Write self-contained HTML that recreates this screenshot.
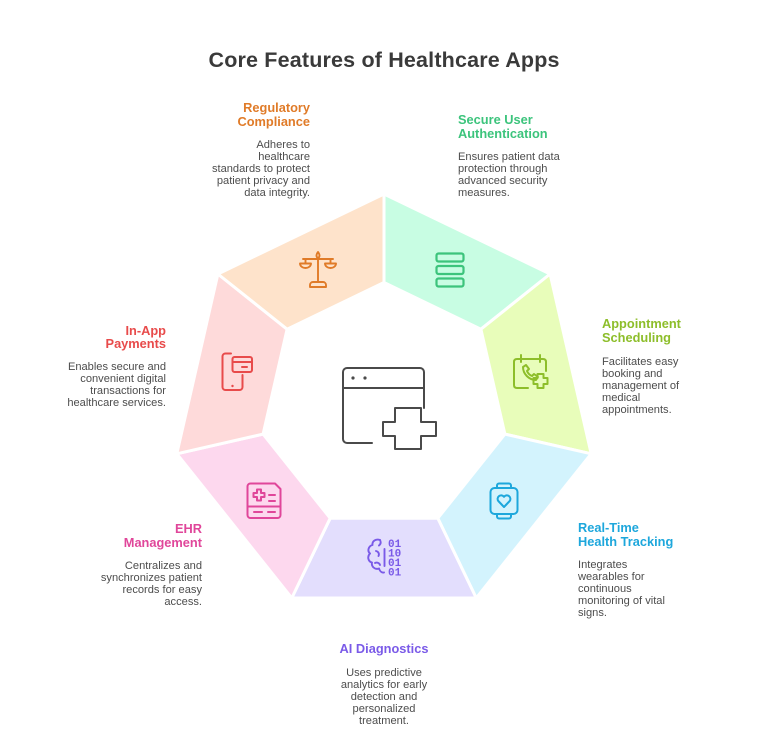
<!DOCTYPE html>
<html>
<head>
<meta charset="utf-8">
<style>
  html,body{margin:0;padding:0;background:#ffffff;}
  body{width:768px;height:748px;overflow:hidden;}
  svg{display:block;}
  .t{font-family:"Liberation Sans",sans-serif;font-weight:bold;font-size:12.8px;}
  .d{font-family:"Liberation Sans",sans-serif;font-size:11.1px;fill:#4d4d4d;}
</style>
</head>
<body>
<svg width="768" height="748" viewBox="0 0 768 748" xmlns="http://www.w3.org/2000/svg">
  <!-- Title -->
  <text x="384" y="67" text-anchor="middle" font-family="Liberation Sans, sans-serif" font-weight="bold" font-size="21.5" fill="#3a3a3a" textLength="351" lengthAdjust="spacing">Core Features of Healthcare Apps</text>

  <!-- Ring segments -->
  <g stroke="#ffffff" stroke-width="3" stroke-linejoin="miter">
    <polygon points="384,194 550.1,274 480.9,329.2 384,282.5" fill="#C8FDE3"/>
    <polygon points="550.1,274 591.2,453.8 504.9,434.1 480.9,329.2" fill="#E8FDBA"/>
    <polygon points="591.2,453.8 476.2,598 437.8,518.2 504.9,434.1" fill="#D3F3FD"/>
    <polygon points="476.2,598 291.8,598 330.2,518.2 437.8,518.2" fill="#E3DEFD"/>
    <polygon points="291.8,598 176.8,453.8 263.1,434.1 330.2,518.2" fill="#FDD8EE"/>
    <polygon points="176.8,453.8 217.9,274 287.1,329.2 263.1,434.1" fill="#FEDADA"/>
    <polygon points="217.9,274 384,194 384,282.5 287.1,329.2" fill="#FEE3CB"/>
  </g>

  <!-- Center icon -->
  <g stroke="#4a4a4a" stroke-width="2" fill="none" stroke-linecap="round" stroke-linejoin="round">
    <path d="M372 443 H347 a4 4 0 0 1 -4 -4 V372 a4 4 0 0 1 4 -4 H420 a4 4 0 0 1 4 4 V408"/>
    <path d="M343 388 H424"/>
    <path d="M395 408 H421 V422 H436 V436 H421 V449 H395 V436 H383 V422 H395 Z"/>
  </g>
  <circle cx="353" cy="378" r="1.6" fill="#4a4a4a"/>
  <circle cx="365" cy="378" r="1.6" fill="#4a4a4a"/>

  <!-- Scales icon (orange) -->
  <g stroke="#E07B28" stroke-width="1.9" fill="none" stroke-linecap="round" stroke-linejoin="round">
    <path d="M318 258 V281"/>
    <path d="M318 252 c-2 2.5 -2 5 0 6 c2 -1 2 -3.5 0 -6z"/>
    <path d="M303 259 H333"/>
    <path d="M305.5 259 V263 M330.5 259 V263"/>
    <path d="M300 263.5 H311 a5.5 4.5 0 0 1 -11 0z"/>
    <path d="M325 263.5 H336 a5.5 4.5 0 0 1 -11 0z"/>
    <path d="M310 287 H326 V285 a3 3 0 0 0 -3 -3 H313 a3 3 0 0 0 -3 3 Z"/>
  </g>

  <!-- Stack icon (green) -->
  <g stroke="#3CC47C" stroke-width="2.2" fill="none">
    <rect x="436.5" y="253.5" width="27" height="8" rx="2"/>
    <rect x="436.5" y="266" width="27" height="8" rx="2"/>
    <rect x="436.5" y="278.5" width="27" height="8" rx="2"/>
  </g>

  <!-- Appointment icon (yellow-green) -->
  <g stroke="#8DBE2A" stroke-width="2" fill="none" stroke-linecap="round" stroke-linejoin="round">
    <path d="M528 388 H517 Q514 388 514 385 V362 Q514 359 517 359 H543 Q546 359 546 362 V371"/>
    <path d="M521 355 V362 M540 355 V362"/>
    <path d="M523 367 l3 -2 l3 4 l-2 2 c1 2.5 2.5 4 5 5 l2 -2 l4 3 l-2 3 c-7 0 -13 -6 -13 -13 z"/>
    <path d="M537.5 374 H543.5 V378 H547.5 V384 H543.5 V388 H537.5 V384 H533.5 V378 H537.5 Z"/>
  </g>

  <!-- Watch icon (blue) -->
  <g stroke="#1DA7DC" stroke-width="2" fill="none" stroke-linecap="round" stroke-linejoin="round">
    <rect x="490.5" y="488" width="27" height="26" rx="4"/>
    <path d="M497 488 V485.5 a2 2 0 0 1 2 -2 H509 a2 2 0 0 1 2 2 V488"/>
    <path d="M497 514 V516.5 a2 2 0 0 0 2 2 H509 a2 2 0 0 0 2 -2 V514"/>
    <path d="M504 507 L498.3 501 a3.3 3.3 0 0 1 5.7 -4.2 a3.3 3.3 0 0 1 5.7 4.2 Z"/>
  </g>

  <!-- AI icon (purple) -->
  <g stroke="#7A5AE8" stroke-width="1.9" fill="none" stroke-linecap="round" stroke-linejoin="round">
    <path d="M380 540 c-4 -1.5 -8 1 -7.5 5 c-4 1 -5.5 6 -2.5 8.5 c-3 3 -2 8 2 9 c-1 4 3 7.5 7 6 c1 3 3 4.5 5 4"/>
    <path d="M380 540 c1 2 1 4 -1 5.5 M376 551 c2.5 0.5 3.5 3 2.5 5 M375 563 c2 -1 4.5 0 5 2"/>
    <path d="M384.5 549 V566"/>
  </g>
  <g font-family="Liberation Mono, monospace" font-weight="bold" font-size="11" fill="#7A5AE8">
    <text x="388" y="547">01</text>
    <text x="388" y="556.5">10</text>
    <text x="388" y="566">01</text>
    <text x="388" y="575.5">01</text>
  </g>

  <!-- EHR icon (pink) -->
  <g stroke="#E0469A" stroke-width="2" fill="none" stroke-linecap="round" stroke-linejoin="round">
    <path d="M250.5 483.5 H275 L280.5 489 V515 a3 3 0 0 1 -3 3 H250.5 a3 3 0 0 1 -3 -3 V486.5 a3 3 0 0 1 3 -3 Z"/>
    <path d="M247.5 506.5 H280.5"/>
    <path d="M254 512 H262 M268 512 H275"/>
    <path d="M257 489.5 H261 V493 H264.5 V497 H261 V500.5 H257 V497 H253.5 V493 H257 Z"/>
    <path d="M269 495 H275 M269 501 H275"/>
  </g>

  <!-- Payment icon (red) -->
  <g stroke="#E84B4B" stroke-width="2" fill="none" stroke-linecap="round" stroke-linejoin="round">
    <path d="M231 353.5 H225.5 a3 3 0 0 0 -3 3 V387 a3 3 0 0 0 3 3 H239.5 a3 3 0 0 0 3 -3 V375"/>
    <rect x="232.5" y="357" width="19.5" height="15" rx="2"/>
    <path d="M232.5 362 H252"/>
    <path d="M242 367 H247"/>
  </g>
  <circle cx="232.5" cy="386" r="1.2" fill="#E84B4B"/>

  <!-- Regulatory Compliance -->
  <text class="t" x="310" y="112" text-anchor="end" fill="#E07B28">Regulatory</text>
  <text class="t" x="310" y="126" text-anchor="end" fill="#E07B28">Compliance</text>
  <g class="d" text-anchor="end">
    <text x="310" y="148">Adheres to</text>
    <text x="310" y="160">healthcare</text>
    <text x="310" y="172">standards to protect</text>
    <text x="310" y="184">patient privacy and</text>
    <text x="310" y="196">data integrity.</text>
  </g>

  <!-- Secure User Authentication -->
  <text class="t" x="458" y="124" fill="#3CC47C">Secure User</text>
  <text class="t" x="458" y="138" fill="#3CC47C">Authentication</text>
  <g class="d">
    <text x="458" y="160">Ensures patient data</text>
    <text x="458" y="172">protection through</text>
    <text x="458" y="184">advanced security</text>
    <text x="458" y="196">measures.</text>
  </g>

  <!-- Appointment Scheduling -->
  <text class="t" x="602" y="328" fill="#8DBE2A">Appointment</text>
  <text class="t" x="602" y="342" fill="#8DBE2A">Scheduling</text>
  <g class="d">
    <text x="602" y="365">Facilitates easy</text>
    <text x="602" y="377">booking and</text>
    <text x="602" y="389">management of</text>
    <text x="602" y="401">medical</text>
    <text x="602" y="413">appointments.</text>
  </g>

  <!-- Real-Time Health Tracking -->
  <text class="t" x="578" y="532" fill="#1DA7DC">Real-Time</text>
  <text class="t" x="578" y="546" fill="#1DA7DC">Health Tracking</text>
  <g class="d">
    <text x="578" y="568">Integrates</text>
    <text x="578" y="580">wearables for</text>
    <text x="578" y="592">continuous</text>
    <text x="578" y="604">monitoring of vital</text>
    <text x="578" y="616">signs.</text>
  </g>

  <!-- AI Diagnostics -->
  <text class="t" x="384" y="653" text-anchor="middle" fill="#7A5AE8">AI Diagnostics</text>
  <g class="d" text-anchor="middle">
    <text x="384" y="676">Uses predictive</text>
    <text x="384" y="688">analytics for early</text>
    <text x="384" y="700">detection and</text>
    <text x="384" y="712">personalized</text>
    <text x="384" y="724">treatment.</text>
  </g>

  <!-- EHR Management -->
  <text class="t" x="202" y="533" text-anchor="end" fill="#E0469A">EHR</text>
  <text class="t" x="202" y="547" text-anchor="end" fill="#E0469A">Management</text>
  <g class="d" text-anchor="end">
    <text x="202" y="569">Centralizes and</text>
    <text x="202" y="581">synchronizes patient</text>
    <text x="202" y="593">records for easy</text>
    <text x="202" y="605">access.</text>
  </g>

  <!-- In-App Payments -->
  <text class="t" x="166" y="335" text-anchor="end" fill="#E84B4B">In-App</text>
  <text class="t" x="166" y="348" text-anchor="end" fill="#E84B4B">Payments</text>
  <g class="d" text-anchor="end">
    <text x="166" y="370">Enables secure and</text>
    <text x="166" y="382">convenient digital</text>
    <text x="166" y="394">transactions for</text>
    <text x="166" y="406">healthcare services.</text>
  </g>
</svg>
</body>
</html>
